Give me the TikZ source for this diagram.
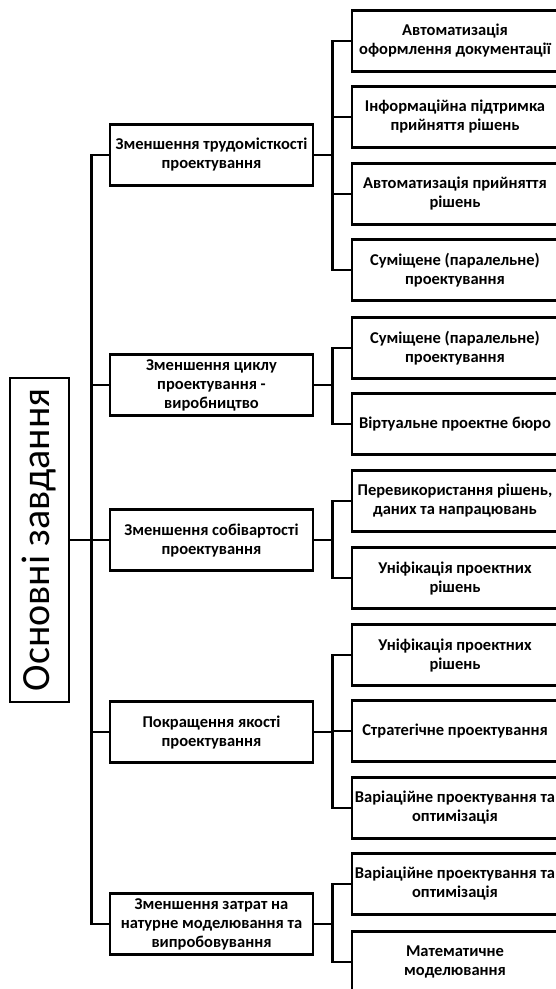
\documentclass[tikz,border=0pt]{standalone}
\usepackage{fontspec}
\setmainfont{Carlito}
\usetikzlibrary{positioning,calc}

\begin{document}
\begin{tikzpicture}[
  x=1pt, y=-1pt, line width=2.6pt,
  task/.style={rectangle, draw, minimum width=59pt, minimum height=324pt, inner sep=0pt, font=\fontsize{40}{46}\selectfont},
  goal/.style={rectangle, draw, minimum width=203pt, minimum height=61pt, inner sep=1pt, align=center, font=\bfseries\fontsize{16.5}{19}\selectfont},
  way/.style={rectangle, draw, minimum width=206pt, minimum height=61pt, inner sep=1pt, align=center, font=\bfseries\fontsize{16.5}{19}\selectfont},
]
  \useasboundingbox (0,0) rectangle (556,989);
  \clip (0,0) rectangle (556,989);

  \node[task] (t) at (39.5,540) {\rotatebox{90}{Основні завдання}};

  \node[goal] (g1) at (211.5,155) {Зменшення трудомісткості\\проектування};
  \node[goal] (g2) at (211.5,385) {Зменшення циклу\\проектування -\\виробництво};
  \node[goal] (g3) at (211.5,540) {Зменшення собівартості\\проектування};
  \node[goal] (g4) at (211.5,732) {Покращення якості\\проектування};
  \node[goal] (g5) at (211.5,924) {Зменшення затрат на\\натурне моделювання та\\випробовування};

  \node[way] (w1) at (455,41) {Автоматизація\\оформлення документації};
  \node[way] (w2) at (455,117) {Інформаційна підтримка\\прийняття рішень};
  \node[way] (w3) at (455,194) {Автоматизація прийняття\\рішень};
  \node[way] (w4) at (455,270) {Суміщене (паралельне)\\проектування};
  \node[way] (w5) at (455,348) {Суміщене (паралельне)\\проектування};
  \node[way] (w6) at (455,424) {Віртуальне проектне бюро};
  \node[way] (w7) at (455,501) {Перевикористання рішень,\\даних та напрацювань};
  \node[way] (w8) at (455,578) {Уніфікація проектних\\рішень};
  \node[way] (w9) at (455,655) {Уніфікація проектних\\рішень};
  \node[way] (w10) at (455,731) {Стратегічне проектування};
  \node[way] (w11) at (455,808) {Варіаційне проектування та\\оптимізація};
  \node[way] (w12) at (455,884) {Варіаційне проектування та\\оптимізація};
  \node[way] (w13) at (455,962) {Математичне\\моделювання};

  % trunk from the main box
  \coordinate (tr) at ($(t.east)+(21,0)$);
  \draw (t.east) -- (tr);
  \foreach \g in {g1,g2,g3,g4,g5}
    \draw (tr) |- (\g.west);

  % branches to the ways
  \foreach \g/\ws in {g1/{w1,w2,w3,w4}, g2/{w5,w6}, g3/{w7,w8}, g4/{w9,w10,w11}, g5/{w12,w13}} {
    \coordinate (\g j) at ($(\g.east)+(18,0)$);
    \draw (\g.east) -- (\g j);
    \foreach \w in \ws
      \draw (\g j) |- (\w.west);
  }
\end{tikzpicture}
\end{document}
